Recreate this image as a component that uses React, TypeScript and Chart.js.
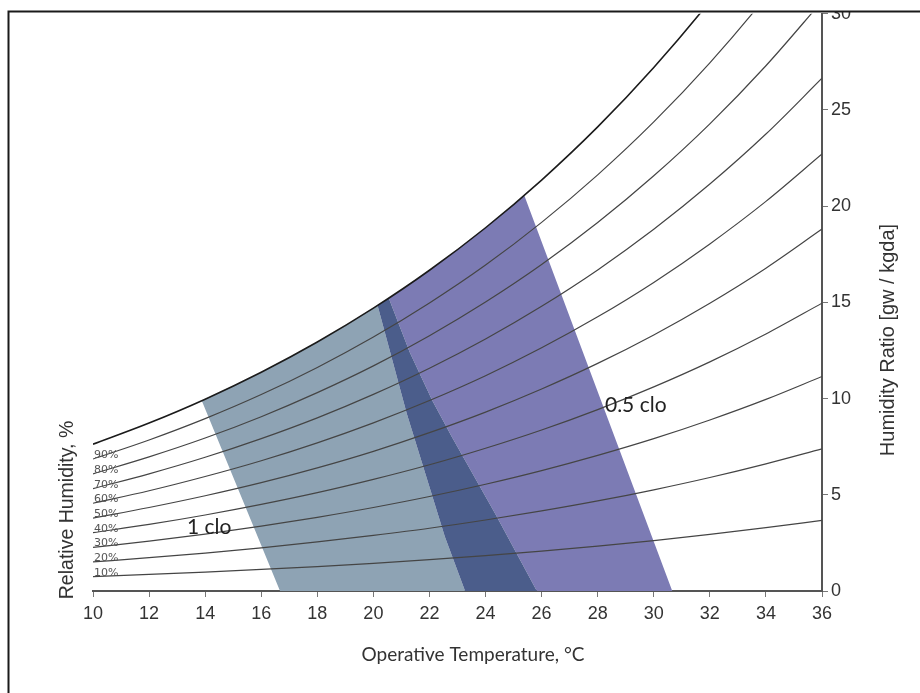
import React, { useEffect, useRef } from 'react';
import { Chart, registerables } from 'chart.js';

Chart.register(...registerables);

// Operative temperature (°C) grid used for the relative-humidity curves
const temperatures = [10, 12, 14, 16, 18, 20, 22, 24, 26, 28, 30, 32, 34, 36];

// Humidity ratio (g water / kg dry air)
const rh10 = [0.75, 0.86, 0.98, 1.12, 1.27, 1.44, 1.63, 1.84, 2.07, 2.33, 2.62, 2.94, 3.29, 3.67];
const rh20 = [1.51, 1.73, 1.97, 2.24, 2.55, 2.89, 3.26, 3.69, 4.16, 4.68, 5.26, 5.9, 6.61, 7.39];
const rh30 = [2.27, 2.59, 2.96, 3.37, 3.83, 4.34, 4.91, 5.55, 6.26, 7.05, 7.92, 8.89, 9.96, 11.15];
const rh40 = [3.03, 3.46, 3.95, 4.5, 5.11, 5.8, 6.56, 7.42, 8.37, 9.43, 10.61, 11.91, 13.36, 14.96];
const rh50 = [3.79, 4.34, 4.95, 5.63, 6.4, 7.26, 8.23, 9.3, 10.5, 11.83, 13.31, 14.96, 16.78, 18.81];
const rh60 = [4.56, 5.21, 5.95, 6.77, 7.7, 8.74, 9.9, 11.19, 12.64, 14.25, 16.04, 18.04, 20.25, 22.71];
const rh70 = [5.32, 6.09, 6.95, 7.92, 9.0, 10.22, 11.58, 13.1, 14.8, 16.69, 18.8, 21.15, 23.75, 26.65];
const rh80 = [6.09, 6.97, 7.95, 9.06, 10.31, 11.7, 13.27, 15.02, 16.97, 19.15, 21.58, 24.28, 27.3, 30.65];
const rh90 = [6.86, 7.85, 8.96, 10.21, 11.62, 13.2, 14.97, 16.94, 19.16, 21.63, 24.38, 27.45, 30.88, 34.69];
const rh100 = [7.63, 8.73, 9.97, 11.37, 12.94, 14.7, 16.67, 18.88, 21.36, 24.12, 27.21, 30.65, 34.5, 38.79];

const rhLabels = ['10%', '20%', '30%', '40%', '50%', '60%', '70%', '80%', '90%'];

// Comfort zone polygons (temperature, humidity ratio)
const oneCloT = [13.88, 15, 16, 17, 18, 19, 20.15, 21.19, 22.55, 23.27, 16.67];
const oneCloW = [9.89, 10.65, 11.37, 12.13, 12.94, 13.79, 14.84, 9.22, 2.82, 0, 0];

const halfCloT = [20.55, 21, 22, 23, 24, 25, 25.38, 30.66, 25.83, 24.35, 22.8, 22.1, 21.3];
const halfCloW = [15.21, 15.65, 16.67, 17.75, 18.88, 20.09, 20.57, 0, 0, 4.0, 8.0, 9.9, 12.4];

const overlapT = [20.15, 20.55, 21.3, 22.1, 22.8, 24.35, 25.83, 23.27, 22.55, 21.19];
const overlapW = [14.84, 15.21, 12.4, 9.9, 8.0, 4.0, 0, 0, 2.82, 9.22];

const zoneLabels = ['1 clo', '0.5 clo'];
const zoneLabelT = [13.35, 28.26];
const zoneLabelW = [3.3, 9.65];

const xMin = 10;
const xMax = 36;
const xStep = 2;
const yMin = 0;
const yMax = 30;
const yStep = 5;

const xTitle = 'Operative Temperature, °C';
const yTitle = 'Humidity Ratio [gw / kgda]';
const rhTitle = 'Relative Humidity, %';

export default function App() {
  const ref = useRef<HTMLCanvasElement | null>(null);

  useEffect(() => {
    const canvas = ref.current;
    if (!canvas) return;

    const curves = [rh10, rh20, rh30, rh40, rh50, rh60, rh70, rh80, rh90, rh100];
    const datasets: any[] = curves.map((ys, i) => ({
      data: temperatures.map((t, j) => ({ x: t, y: ys[j] })),
      borderColor: i === 9 ? '#1b1b1b' : '#454545',
      borderWidth: i === 9 ? 1.6 : 1.2,
      pointRadius: 0,
      cubicInterpolationMode: 'monotone',
      fill: false,
      order: 0,
    }));

    const poly = (ts: number[], ws: number[], color: string, order: number) => ({
      data: ts.map((t, j) => ({ x: t, y: ws[j] })),
      fill: 'shape',
      backgroundColor: color,
      borderColor: color,
      borderWidth: 0,
      pointRadius: 0,
      tension: 0,
      order,
    });

    datasets.push(poly(oneCloT, oneCloW, '#8ea3b4', 3));
    datasets.push(poly(halfCloT, halfCloW, '#7c7bb4', 2));
    datasets.push(poly(overlapT, overlapW, '#4b5d8b', 1));

    const overlay = {
      id: 'overlay',
      afterDraw(chart: any) {
        const ctx = chart.ctx as CanvasRenderingContext2D;
        const xs = chart.scales.x;
        const ys = chart.scales.y;
        ctx.save();

        // RH labels near the left end of each curve
        ctx.fillStyle = '#555';
        ctx.font = '11px "DejaVu Sans"';
        ctx.textAlign = 'left';
        ctx.textBaseline = 'alphabetic';
        rhLabels.forEach((lab, i) => {
          const px = xs.getPixelForValue(xMin) + 1;
          const py = ys.getPixelForValue(curves[i][0]) - 1;
          ctx.fillText(lab, px, py);
        });

        // zone labels
        ctx.fillStyle = '#222';
        ctx.font = '21px Lato';
        ctx.textBaseline = 'middle';
        zoneLabels.forEach((lab, i) => {
          ctx.fillText(lab, xs.getPixelForValue(zoneLabelT[i]), ys.getPixelForValue(zoneLabelW[i]));
        });

        // axis titles
        ctx.fillStyle = '#333';
        ctx.textAlign = 'center';
        ctx.font = '19px Lato';
        ctx.fillText(xTitle, 473, 655);

        ctx.font = '19.5px "Liberation Sans"';
        ctx.save();
        ctx.translate(68, 510);
        ctx.rotate(-Math.PI / 2);
        ctx.fillText(rhTitle, 0, 0);
        ctx.restore();

        ctx.font = '20px "Liberation Sans"';
        ctx.save();
        ctx.translate(888, 340);
        ctx.rotate(-Math.PI / 2);
        ctx.fillText(yTitle, 0, 0);
        ctx.restore();

        // cropped frame
        ctx.fillStyle = '#ffffff';
        ctx.fillRect(0, 0, chart.width, 11);
        ctx.strokeStyle = '#1a1a1a';
        ctx.lineWidth = 2;
        ctx.beginPath();
        ctx.moveTo(8.5, chart.height);
        ctx.lineTo(8.5, 11.5);
        ctx.lineTo(chart.width, 11.5);
        ctx.stroke();
        ctx.restore();
      },
    };

    const tickFont = { family: '"Liberation Sans", Arial, sans-serif', size: 18 };

    const chart = new Chart(canvas, {
      type: 'line',
      data: { datasets },
      options: {
        animation: false,
        responsive: false,
        events: [],
        layout: { padding: { left: 93, top: 13, right: 0, bottom: 0 } },
        plugins: { legend: { display: false }, tooltip: { enabled: false } },
        scales: {
          x: {
            type: 'linear',
            position: 'bottom',
            min: xMin,
            max: xMax,
            ticks: { stepSize: xStep, color: '#333', font: tickFont, padding: 6, maxRotation: 0, autoSkip: false },
            grid: { display: true, drawOnChartArea: false, drawTicks: true, tickLength: 6, color: '#777', lineWidth: 1 },
            border: { display: true, color: '#555', width: 2 },
            afterFit: (s: any) => { s.height = 102; },
          },
          y: {
            type: 'linear',
            position: 'right',
            min: yMin,
            max: yMax,
            ticks: { stepSize: yStep, color: '#333', font: tickFont, padding: 3 },
            grid: { display: true, drawOnChartArea: false, drawTicks: true, tickLength: 6, color: '#777', lineWidth: 1 },
            border: { display: true, color: '#555', width: 2 },
            afterFit: (s: any) => { s.width = 98; },
          },
        },
      } as any,
      plugins: [overlay],
    });

    return () => chart.destroy();
  }, []);

  return (
    <div style={{ position: 'fixed', left: 0, top: 0, width: 920, height: 693, background: '#fff' }}>
      <canvas ref={ref} width={920} height={693} style={{ display: 'block' }} />
    </div>
  );
}
